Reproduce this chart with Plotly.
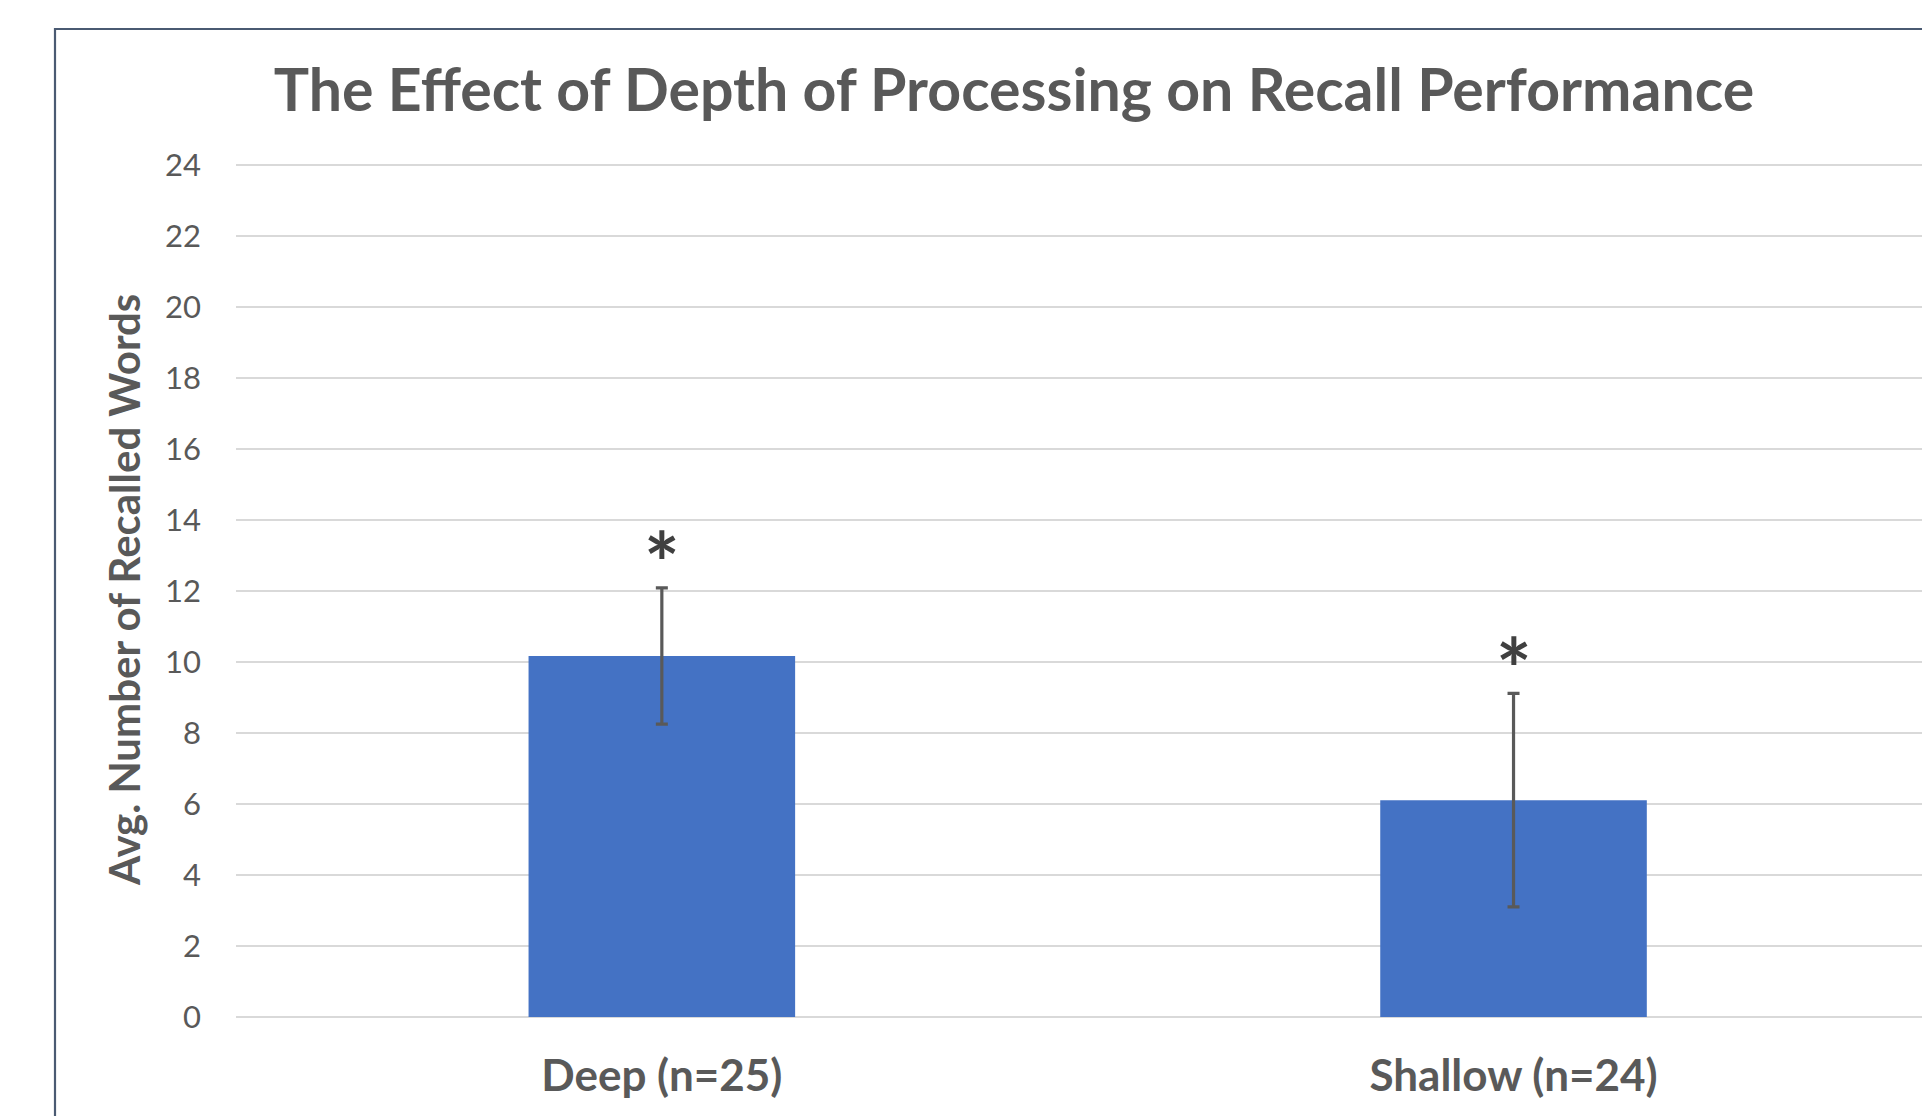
import plotly.graph_objects as go

categories = ["Deep (n=25)", "Shallow (n=24)"]
means = [10.17, 6.11]
errors = [1.92, 3.01]
sig_marks = ["*", "*"]
y_ticks = list(range(0, 26, 2))

# page has an 8px body margin, so the figure is slightly smaller than the window
W, H = 1922, 1108
L, R, T, B = 228, 0, 155, 99
pw, ph = W - L - R, H - T - B

fig = go.Figure()
fig.add_trace(go.Bar(
    x=categories, y=means, width=0.313,
    marker=dict(color="#4472C4", line=dict(width=0)),
    error_y=dict(type="data", array=errors, visible=True,
                 color="#595959", thickness=3.2, width=6),
))

for c, m, e, s in zip(categories, means, errors, sig_marks):
    fig.add_annotation(x=c, y=m + e, text=s, showarrow=False,
                       xanchor="center", yanchor="middle", yshift=26,
                       font=dict(family="Lato", size=84, color="#404040", weight="bold"))

# y axis title
fig.add_annotation(xref="paper", yref="paper", x=(116 - L) / pw, y=0.5,
                   text="Avg. Number of Recalled Words", textangle=-90,
                   showarrow=False, xanchor="center", yanchor="middle",
                   font=dict(family="Lato", size=42, color="#595959", weight="bold"))

# chart border (cropped at right and bottom)
fig.add_shape(type="rect", xref="paper", yref="paper",
              x0=(47 - L) / pw, x1=1.05,
              y0=-0.3, y1=((H - B) - 21) / ph,
              line=dict(color="#4A5A72", width=2.2), layer="below")

fig.update_layout(
    width=W, height=H,
    margin=dict(l=L, r=R, t=T, b=B, pad=0),
    paper_bgcolor="white", plot_bgcolor="white",
    showlegend=False,
    title=dict(text="<b>The Effect of Depth of Processing on Recall Performance</b>",
               x=(1006 - L) / pw, xref="paper", xanchor="center",
               y=1 - 82 / H, yref="container", yanchor="middle",
               font=dict(family="Lato", size=59, color="#595959")),
    xaxis=dict(range=[-0.5, 1.489], showgrid=False, showline=False,
               tickfont=dict(family="Lato", size=44, color="#595959", weight="bold"),
               ticklabelstandoff=29, ticks=""),
    yaxis=dict(range=[0, 24.06], tickvals=y_ticks, showgrid=True,
               gridcolor="#D9D9D9", gridwidth=1.6, zeroline=True,
               zerolinecolor="#D9D9D9", zerolinewidth=1.6, showline=False,
               tickfont=dict(family="Lato", size=31, color="#595959"),
               ticklabelstandoff=34, ticks=""),
)

fig.write_html("out.html")
